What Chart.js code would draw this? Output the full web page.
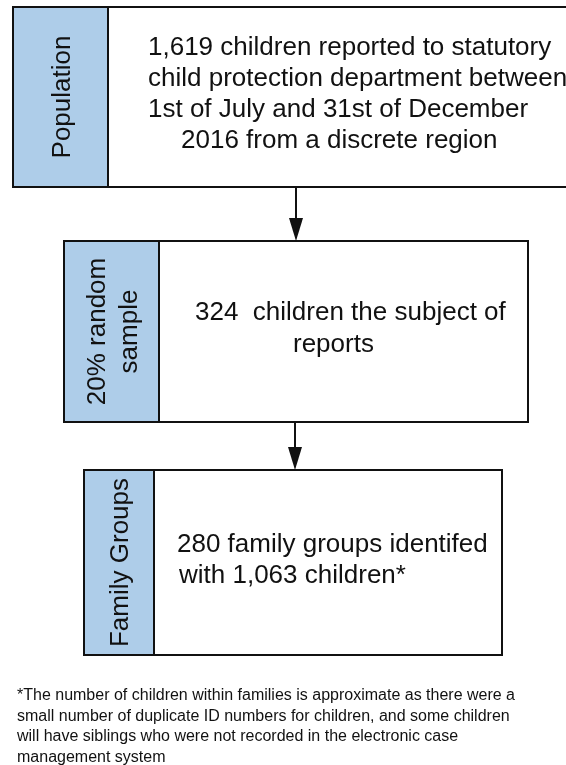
<!DOCTYPE html>
<html><head><meta charset="utf-8">
<script src="https://cdn.jsdelivr.net/npm/chart.js@4/dist/chart.umd.min.js"></script>
<style>html,body{margin:0;padding:0;background:#fff;overflow:hidden}#c{display:block}</style>
</head><body>
<canvas id="c" width="566" height="765"></canvas>
<script>
// ---- content ----
const stageLabels = [['Population'], ['20% random', 'sample'], ['Family Groups']];
const stageTexts = [
  ['1,619 children reported to statutory', 'child protection department between', '1st of July and 31st of December', '2016 from a discrete region'],
  ['324  children the subject of', 'reports'],
  ['280 family groups identifed', 'with 1,063 children*']
];
const footnoteLines = [
  '*The number of children within families is approximate as there were a',
  'small number of duplicate ID numbers for children, and some children',
  'will have siblings who were not recorded in the electronic case',
  'management system'
];

// ---- layout (in data units of a 566 x 765 coordinate space) ----
const boxLayout = [
  {x0: 13, x1: 590, y0: 7,   y1: 187, div: 108, lines: [[148, 55], [148, 86], [148, 117], [181, 148]]},
  {x0: 64, x1: 528, y0: 241, y1: 422, div: 159, lines: [[195, 320], [293, 352]]},
  {x0: 84, x1: 502, y0: 470, y1: 655, div: 154, lines: [[177, 552], [179, 583]]}
];
const arrowLayout = [
  {x: 296, y0: 187, y1: 241},
  {x: 295, y0: 422, y1: 470}
];
const footLayout = {x: 17, y0: 700, dy: 20.5};
const FILL = '#aecde9';
const FONT = '"Liberation Sans", Arial, sans-serif';

const flowPlugin = {
  id: 'flow',
  afterDraw(chart) {
    const ctx = chart.ctx, X = chart.scales.x, Y = chart.scales.y;
    const px = v => X.getPixelForValue(v), py = v => Y.getPixelForValue(v);
    ctx.save();
    boxLayout.forEach((b, i) => {
      const x0 = px(b.x0), x1 = px(b.x1), y0 = py(b.y0), y1 = py(b.y1), d = px(b.div);
      ctx.fillStyle = '#fff';
      ctx.fillRect(x0, y0, x1 - x0, y1 - y0);
      ctx.fillStyle = FILL;
      ctx.fillRect(x0, y0, d - x0, y1 - y0);
      ctx.strokeStyle = '#111';
      ctx.lineWidth = 2;
      ctx.strokeRect(x0, y0, x1 - x0, y1 - y0);
      ctx.beginPath(); ctx.moveTo(d, y0); ctx.lineTo(d, y1); ctx.stroke();
      // vertical label
      const lbl = stageLabels[i];
      const cx = (x0 + d) / 2, cy = (y0 + y1) / 2;
      ctx.save();
      ctx.translate(cx, cy);
      ctx.rotate(-Math.PI / 2);
      ctx.fillStyle = '#111';
      ctx.font = '26px ' + FONT;
      ctx.textAlign = 'center';
      ctx.textBaseline = 'middle';
      const lh = 32;
      lbl.forEach((t, k) => {
        ctx.fillText(t, 0, (k - (lbl.length - 1) / 2) * lh + 2);
      });
      ctx.restore();
      // body text
      ctx.fillStyle = '#111';
      ctx.font = '26px ' + FONT;
      ctx.textAlign = 'left';
      ctx.textBaseline = 'alphabetic';
      stageTexts[i].forEach((t, k) => {
        const p = b.lines[k];
        ctx.fillText(t, px(p[0]), py(p[1]));
      });
    });
    // arrows
    arrowLayout.forEach(a => {
      const x = px(a.x), y0 = py(a.y0), y1 = py(a.y1);
      ctx.strokeStyle = '#111'; ctx.lineWidth = 2;
      ctx.beginPath(); ctx.moveTo(x, y0); ctx.lineTo(x, y1 - 20); ctx.stroke();
      ctx.fillStyle = '#111';
      ctx.beginPath();
      ctx.moveTo(x - 7, y1 - 23); ctx.lineTo(x + 7, y1 - 23); ctx.lineTo(x, y1); ctx.closePath();
      ctx.fill();
    });
    // footnote
    ctx.fillStyle = '#111';
    ctx.font = '16px ' + FONT;
    ctx.textAlign = 'left';
    ctx.textBaseline = 'alphabetic';
    footnoteLines.forEach((t, k) => {
      ctx.fillText(t, px(footLayout.x), py(footLayout.y0 + k * footLayout.dy));
    });
    ctx.restore();
  }
};

new Chart(document.getElementById('c'), {
  type: 'scatter',
  data: {datasets: [{data: [], pointRadius: 0}]},
  options: {
    responsive: false,
    animation: false,
    layout: {padding: 0},
    plugins: {legend: {display: false}, tooltip: {enabled: false}},
    scales: {
      x: {type: 'linear', min: 0, max: 566, display: false},
      y: {type: 'linear', min: 0, max: 765, reverse: true, display: false}
    }
  },
  plugins: [flowPlugin]
});
</script>
</body></html>
